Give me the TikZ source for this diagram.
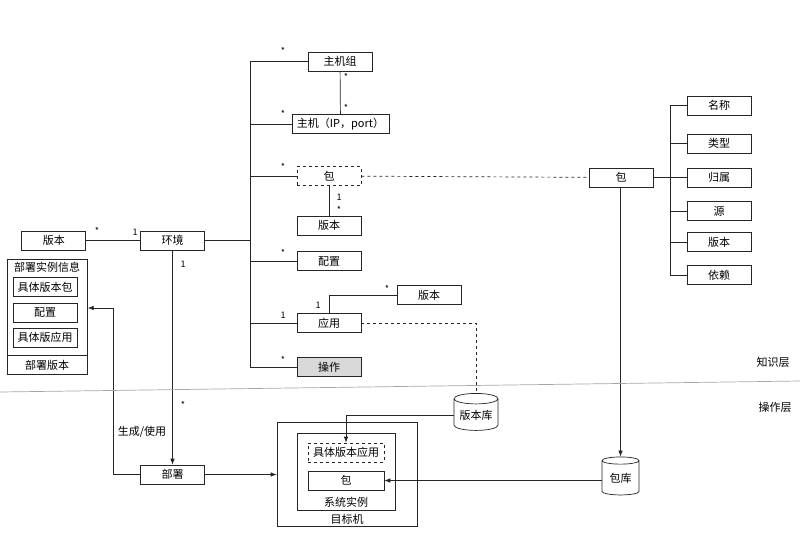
\documentclass[tikz,border=0pt]{standalone}
\usepackage{fontspec}
\setmainfont{Noto Sans CJK SC}
\usetikzlibrary{positioning,shapes,arrows,arrows.meta,calc}

\begin{document}
\begin{tikzpicture}[x=1pt, y=-1pt, line width=0.7pt, draw=black!85, font=\fontsize{11}{13}\selectfont,
  >={Latex[length=6pt,width=4.5pt]},
  box/.style={draw, minimum width=64, minimum height=19, inner sep=1pt},
  db/.style={draw, cylinder, shape border rotate=90, aspect=0.3, inner sep=1pt},
  mult/.style={font=\fontsize{9}{10}\selectfont, inner sep=0pt}]

  \useasboundingbox (0,0) rectangle (800,539);

  % Define the knowledge side boxes
  \node (env) [box] at (172.5,240.5) {环境};
  \node (ver) [box, left=54 of env] {版本};
  \node (groupbox) [box] at (340,61.5) {主机组};
  \node (hostbox) [box, minimum width=97] at (340.5,124) {主机（IP，port）};
  \node (pkg) [box, dashed] at (329,176) {包};
  \node (pkgver) [box] at (329,225.5) {版本};
  \node (conf) [box] at (329,261) {配置};
  \node (app) [box] at (329,323) {应用};
  \node (appver) [box] at (429,295) {版本};
  \node (op) [box, fill=black!15] at (329,367) {操作};

  % Package and its attributes
  \node (pkgr) [box] at (621,177.5) {包};
  \foreach \n/\y/\t in {attrname/105.5/名称, attrtype/143.5/类型, attrowner/177.5/归属,
                        attrsrc/211/源, attrver/242/版本, attrdep/275/依赖}
    \node (\n) [box] at (719,\y) {\t};

  % Deployment instance info
  \node (info) [draw, minimum width=80, minimum height=115, anchor=north west, inner sep=0pt] at (7,259) {};
  \node (infotitle) at (47,267.5) {部署实例信息};
  \node (infopkg) [box] at (45,287) {具体版本包};
  \node (infoconf) [box] at (45,312.5) {配置};
  \node (infoapp) [box] at (45,337.5) {具体版应用};
  \draw (info.west |- 0,355) -- (info.east |- 0,355);
  \node (infover) at (47,365) {部署版本};

  % Operation side
  \node (deploy) [box] at (172.5,474.5) {部署};
  \node (verdb) [db, minimum width=44, minimum height=37] at (476,415.5) {版本库};
  \node (pkgdb) [db, minimum width=37, minimum height=38] at (620.5,478.5) {包库};
  \node (target) [draw, minimum width=140, minimum height=104, inner sep=0pt] at (347,474) {};
  \node (targetlabel) at (347,519) {目标机};
  \node (sysinst) [draw, minimum width=98, minimum height=77, inner sep=0pt] at (346,471.5) {};
  \node (syslabel) at (346,502.5) {系统实例};
  \node (appinst) [box, dashed, minimum width=76] at (346,452.5) {具体版本应用};
  \node (pkginst) [box, minimum width=76] at (346,480.5) {包};

  % Trunk lines
  \coordinate (trunktop) at (250,61.5);
  \coordinate (trunkbot) at (250,367);
  \draw (trunktop) -- (trunkbot);
  \draw (env) -- (env -| trunktop);
  \foreach \n in {groupbox,hostbox,pkg,conf,app,op}
    \draw (\n.west) -- (\n.west -| trunktop);
  \coordinate (rtop) at (670,105.5);
  \coordinate (rbot) at (670,275);
  \draw (rtop) -- (rbot);
  \draw (pkgr) -- (pkgr -| rtop);
  \foreach \n in {attrname,attrtype,attrowner,attrsrc,attrver,attrdep}
    \draw (\n.west) -- (\n.west -| rtop);

  % Associations
  \draw (ver) -- (env);
  \draw (groupbox) -- (hostbox);
  \draw (pkg) -- (pkgver);
  \draw (app.north) |- (appver.west);
  \draw[dashed] (pkg) -- (pkgr);
  \draw[dashed] (app.east) -| (verdb.north);

  % Arrows
  \draw[->] (env) -- (deploy);
  \draw[->] (deploy) -- (target.west |- deploy);
  \coordinate (bend) at (113,308);
  \draw[->] (deploy.west) -| (bend) -- (bend -| info.east);
  \node (uselabel) at (142,432) {生成/使用};
  \draw[->] (verdb.west) -| (appinst.north);
  \draw[->] (pkgdb.west |- pkginst) -- (pkginst.east);
  \draw[->] (pkgr.south -| pkgdb.north) -- (pkgdb.north);

  % Multiplicities
  \node[mult] at (97,231) {*};
  \node[mult] at (135,232) {1};
  \node[mult] at (283,51) {*};
  \node[mult] at (283,114) {*};
  \node[mult] at (283,167) {*};
  \node[mult] at (283,253) {*};
  \node[mult] at (283,315) {1};
  \node[mult] at (283,360) {*};
  \node[mult] at (346,77) {*};
  \node[mult] at (346,108) {*};
  \node[mult] at (339,197) {1};
  \node[mult] at (339,210) {*};
  \node[mult] at (318,305) {1};
  \node[mult] at (387,289) {*};
  \node[mult] at (183,264) {1};
  \node[mult] at (183,405) {*};

  % Layer separator
  \draw[gray!70] (0,392) -- (800,381);
  \node (knowlayer) at (773,362) {知识层};
  \node (oplayer) at (775,407) {操作层};

\end{tikzpicture}
\end{document}
